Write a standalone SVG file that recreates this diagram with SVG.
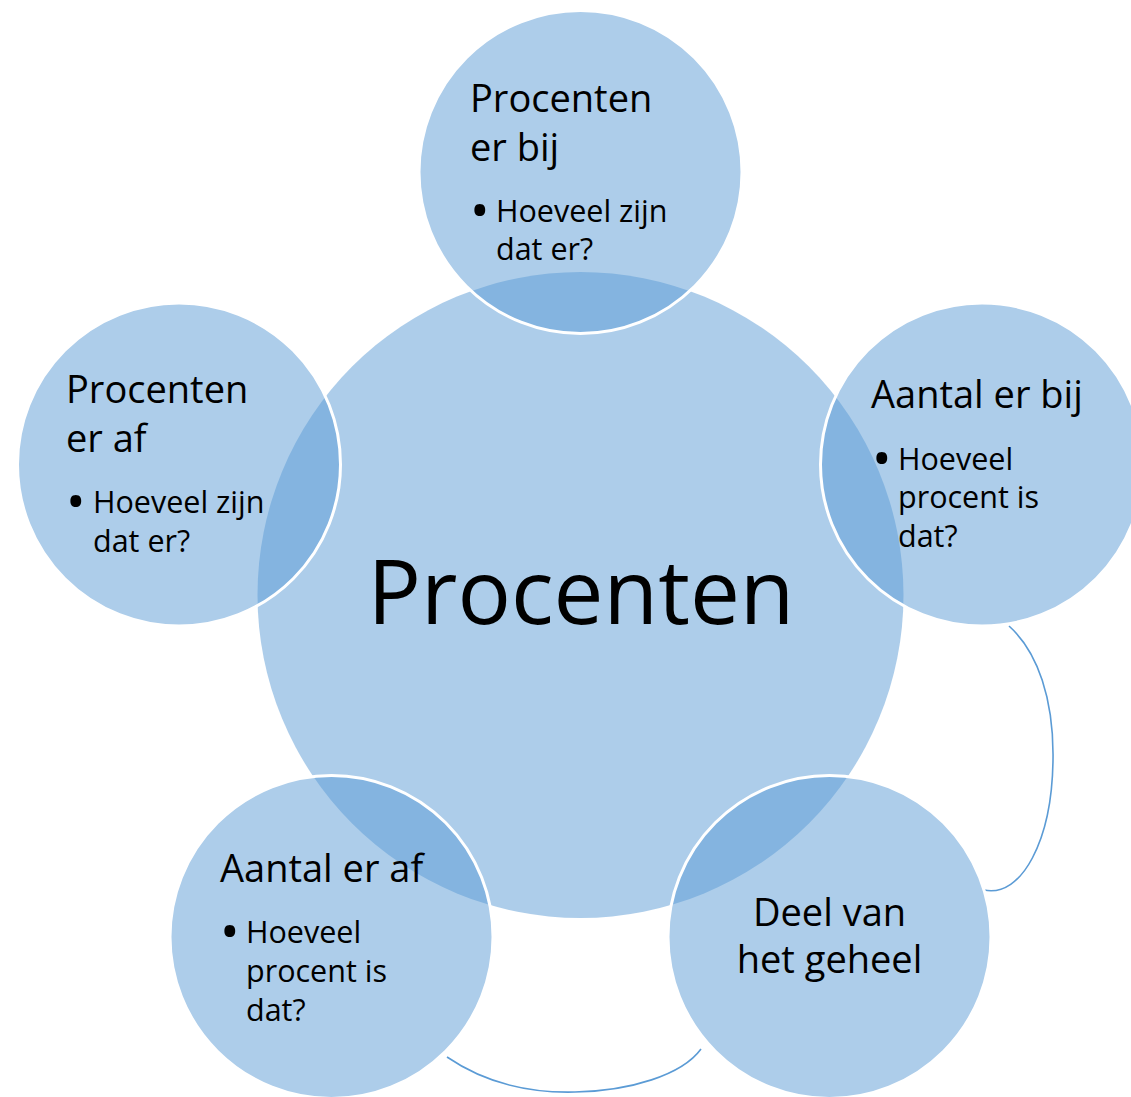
<svg xmlns="http://www.w3.org/2000/svg" width="1131" height="1097" viewBox="0 0 1131 1097">
  <style>
    .c { fill: #5B9BD5; fill-opacity: 0.5; stroke: #FFFFFF; stroke-width: 3; }
    .t { font-family: "Open Sans", "Liberation Sans", sans-serif; fill: #000000; }
    .h { font-size: 38px; }
    .b { font-size: 30.5px; }
    .dot { font-family: "Open Sans", "Liberation Sans", sans-serif; fill: #000000; font-size: 52px; }
    .big { font-size: 89px; }
    .conn { fill: none; stroke: #5B9BD5; stroke-width: 1.6; }
  </style>
  <rect width="1131" height="1097" fill="#FFFFFF"/>
  <g id="connectors">
    <path class="conn" d="M1009,626 C1038,652 1054,700 1053,760 C1052,840 1022,898 984,890"/>
    <path class="conn" d="M447,1057 C488,1085 535,1093 575,1092 C630,1091 682,1075 701,1049"/>
  </g>
  <g id="center">
    <circle class="c" cx="580.5" cy="595" r="323" style="stroke:none"/>
    <text class="t big" x="581" y="624" text-anchor="middle">Procenten</text>
  </g>
  <g id="node-top">
    <circle class="c" cx="580.5" cy="172" r="161.5"/>
    <text class="t h" x="470" y="112">Procenten</text>
    <text class="t h" x="470" y="161">er bij</text>
    <text class="dot" x="470" y="229">•</text>
    <text class="t b" x="496" y="222">Hoeveel zijn</text>
    <text class="t b" x="496" y="260">dat er?</text>
  </g>
  <g id="node-right">
    <circle class="c" cx="982" cy="464.5" r="161.5"/>
    <text class="t h" x="871" y="408">Aantal er bij</text>
    <text class="dot" x="872" y="477">•</text>
    <text class="t b" x="898" y="470">Hoeveel</text>
    <text class="t b" x="898" y="508">procent is</text>
    <text class="t b" x="898" y="547">dat?</text>
  </g>
  <g id="node-bottom-right">
    <circle class="c" cx="829.5" cy="937" r="161.5"/>
    <text class="t h" x="829.5" y="926" text-anchor="middle">Deel van</text>
    <text class="t h" x="829.5" y="973" text-anchor="middle">het geheel</text>
  </g>
  <g id="node-bottom-left">
    <circle class="c" cx="331.5" cy="937" r="161.5"/>
    <text class="t h" x="220" y="882">Aantal er af</text>
    <text class="dot" x="220" y="950">•</text>
    <text class="t b" x="246" y="943">Hoeveel</text>
    <text class="t b" x="246" y="982">procent is</text>
    <text class="t b" x="246" y="1021">dat?</text>
  </g>
  <g id="node-left">
    <circle class="c" cx="179" cy="464.5" r="161.5"/>
    <text class="t h" x="66" y="403">Procenten</text>
    <text class="t h" x="66" y="452">er af</text>
    <text class="dot" x="66" y="520">•</text>
    <text class="t b" x="93" y="513">Hoeveel zijn</text>
    <text class="t b" x="93" y="552">dat er?</text>
  </g>
</svg>
